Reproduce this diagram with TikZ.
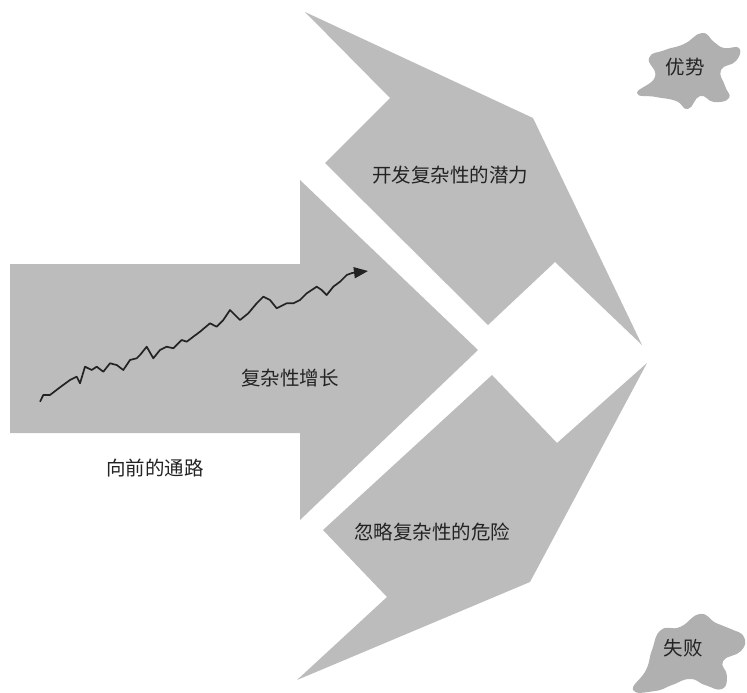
\documentclass[tikz,border=0pt]{standalone}
\usepackage{fontspec}
\setmainfont{Noto Sans CJK SC}
\usetikzlibrary{arrows.meta}
\definecolor{shade}{RGB}{188,188,188}
\definecolor{blob}{RGB}{176,176,176}
\definecolor{ink}{RGB}{35,35,35}
\begin{document}
\begin{tikzpicture}[x=1pt,y=-1pt,
  shapefill/.style={fill=shade,draw=none},
  cloudfill/.style={fill=blob,draw=none},
  lbl/.style={text=ink,font=\fontsize{19.5}{21}\selectfont,inner sep=0pt}]
\useasboundingbox (0,0) rectangle (747,693);
% main arrow
\fill[shapefill] (10,264) -- (300,264) -- (300,180) -- (478,350) -- (300,520) -- (300,433) -- (10,433) -- cycle;
% upper shape
\fill[shapefill] (305,12) -- (533,118) -- (642,345) -- (555,262) -- (488,325) -- (325,163) -- (390,98) -- cycle;
% lower shape
\fill[shapefill] (492,375) -- (557,443) -- (647,363) -- (530,582) -- (297,680) -- (387,597) -- (323,530) -- cycle;
% clouds
\fill[cloudfill] plot[smooth cycle,tension=0.85] coordinates {(637,93) (655,77) (649,58) (665,50) (684,44) (702,33) (714,42) (724,48) (739,48) (736,61) (721,70) (725,86) (729,98) (714,102) (700,96) (688,109) (676,101) (656,97)};
\fill[cloudfill] plot[smooth cycle,tension=0.85] coordinates {(633,690) (646,670) (652,650) (661,630) (680,627) (700,614) (716,623) (731,629) (744,637) (741,651) (723,661) (727,676) (722,689) (705,685) (690,679) (672,685) (655,691)};
% labels
\node[lbl] (growth) at (290,378) {复杂性增长};
\node[lbl] (path) at (155,468) {向前的通路};
\node[lbl] (potential) at (450,175) {开发复杂性的潜力};
\node[lbl] (danger) at (432,532) {忽略复杂性的危险};
\node[lbl] (adv) at (685,67) {优势};
\node[lbl] (fail) at (683,648) {失败};
% jagged growth line
\draw[ink,line width=1.7pt,line join=round,-{Triangle[length=14pt,width=11pt]}]
  plot coordinates {(40,401.7) (43.3,395) (50,395) (60,387.3) (70,380) (76.7,376.7) (80,383.3) (85,366.7) (91.7,370) (96.7,366.7) (103.3,371.7) (110,363.3) (116.7,365) (123.3,370) (130,360) (136.7,358.3) (140,355) (146.7,346.7) (153.3,358.3) (160,350) (166.7,346.7) (173.3,348.3) (181.7,340) (186.7,341.7) (193.3,336.7) (200,331.7) (210,323.3) (216.7,326.7) (223.3,320) (230,310) (233.3,313.3) (240,320) (248.3,313.3) (256.7,303.3) (263.3,296.7) (270,300) (276.7,308.3) (286.7,303.3) (293.3,303.3) (300,300) (306.7,293.3) (316.7,286.7) (321.7,290) (326.7,295) (333.3,286.7) (340,281.7) (346.7,275) (352,273) (368,271)};
\end{tikzpicture}
\end{document}
